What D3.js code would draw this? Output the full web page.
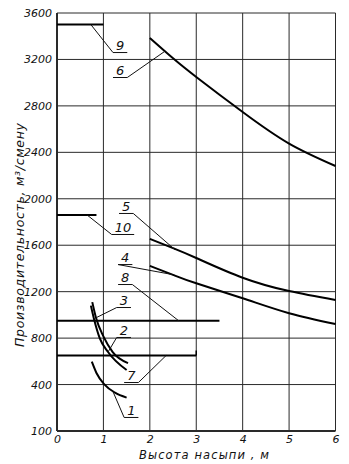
<!DOCTYPE html>
<html>
<head>
<meta charset="utf-8">
<script src="https://cdn.jsdelivr.net/npm/d3@7"></script>
<style>
  html, body { margin: 0; padding: 0; background: #fff; }
  svg { display: block; }
  text { font-family: "DejaVu Sans", "Liberation Sans", sans-serif; font-style: italic; fill: #111; }
</style>
</head>
<body>
<svg id="chart" width="349" height="464"></svg>
<script>
// Embankment height, m (x) versus output, m³ per shift (y)
const xTickValues = [0, 1, 2, 3, 4, 5, 6];
const xTickLabels = ["0", "1", "2", "3", "4", "5", "6"];
const yTickValues = [0, 400, 800, 1200, 1600, 2000, 2400, 2800, 3200, 3600];
const yTickLabels = ["100", "400", "800", "1200", "1600", "2000", "2400", "2800", "3200", "3600"];

// Each series: [height, output] pairs
const curve1 = [[0.75, 597], [0.85, 500], [1.02, 402], [1.25, 330], [1.5, 287]];
const curve2 = [[0.73, 1080], [0.8, 960], [0.92, 800], [1.1, 680], [1.5, 525]];
const curve3 = [[0.76, 1110], [0.84, 975], [1.0, 815], [1.2, 680], [1.53, 585]];
const curve4 = [[2, 1422], [2.5, 1345], [3, 1272], [4, 1143], [5, 1014], [6, 921]];
const curve5 = [[2, 1655], [2.5, 1575], [3, 1490], [4, 1320], [5, 1205], [6, 1128]];
const curve6 = [[2, 3385], [2.5, 3210], [3, 3049], [4, 2747], [5, 2475], [6, 2282]];
const line7 = [[0, 650], [3, 650]];
const line8 = [[0, 950], [3.5, 950]];
const line9 = [[0, 3500], [1, 3500]];
const line10 = [[0, 1860], [0.85, 1860]];

// Curve numbers: text position, which end of the underline the leader leaves from, leader target
const callouts = [
  { text: "9",  at: [1.36, 3281], from: "left",  to: [0.73, 3500] },
  { text: "6",  at: [1.36, 3066], from: "right", to: [2.33, 3272] },
  { text: "5",  at: [1.49, 1895], from: "right", to: [2.54, 1562] },
  { text: "10", at: [1.42, 1714], from: "left",  to: [0.65, 1860] },
  { text: "4",  at: [1.47, 1455], from: "left",  to: [2.48, 1348] },
  { text: "8",  at: [1.47, 1283], from: "right", to: [2.62, 950] },
  { text: "3",  at: [1.44, 1085], from: "left",  to: [0.84, 975] },
  { text: "2",  at: [1.44, 827],  from: "left",  to: [1.1, 680] },
  { text: "7",  at: [1.6, 439],   from: "right", to: [2.35, 650] },
  { text: "1",  at: [1.6, 138],   from: "left",  to: [1.2, 345] }
];

const xTitle = "Высота насыпи , м";
const yTitle = "Производительность, м³/смену";

const svg = d3.select("#chart");
const x = d3.scaleLinear().domain([0, 6]).range([57, 335.5]);
const y = d3.scaleLinear().domain([0, 3600]).range([431, 13]);

// grid
const grid = svg.append("g").attr("stroke", "#2a2a2a").attr("stroke-width", 1).attr("fill", "none");
xTickValues.forEach(v => {
  grid.append("line")
    .attr("x1", x(v)).attr("x2", x(v))
    .attr("y1", y(0)).attr("y2", y(3600))
    .attr("stroke-width", v === 0 ? 2 : 1);
});
yTickValues.forEach(v => {
  grid.append("line")
    .attr("x1", x(0)).attr("x2", x(6))
    .attr("y1", y(v)).attr("y2", y(v))
    .attr("stroke-width", v === 0 ? 2 : 1);
});

// axes (labels only; the frame is drawn by the grid)
const yAxis = d3.axisLeft(y)
  .tickValues(yTickValues)
  .tickFormat((d, i) => yTickLabels[i])
  .tickSize(0).tickPadding(5);
const gy = svg.append("g").attr("transform", `translate(${x(0)},0)`).call(yAxis);
gy.select(".domain").remove();
gy.selectAll("text").style("font-size", "11px").style("font-family", "DejaVu Sans, sans-serif").style("font-style", "italic");

const xAxis = d3.axisBottom(x)
  .tickValues(xTickValues)
  .tickFormat((d, i) => xTickLabels[i])
  .tickSize(0).tickPadding(4);
const gx = svg.append("g").attr("transform", `translate(0,${y(0)})`).call(xAxis);
gx.select(".domain").remove();
gx.selectAll("text").style("font-size", "11px").style("font-family", "DejaVu Sans, sans-serif").style("font-style", "italic");

// series
const smoothShort = d3.line().x(d => x(d[0])).y(d => y(d[1])).curve(d3.curveMonotoneX);
const smoothLong = d3.line().x(d => x(d[0])).y(d => y(d[1])).curve(d3.curveNatural);
const straight = d3.line().x(d => x(d[0])).y(d => y(d[1]));
const marks = svg.append("g").attr("fill", "none").attr("stroke", "#000").attr("stroke-width", 2);
[curve1, curve2, curve3].forEach(c => marks.append("path").attr("d", smoothShort(c)));
[curve4, curve5, curve6].forEach(c => marks.append("path").attr("d", smoothLong(c)));
[line7, line8, line9, line10].forEach(c => marks.append("path").attr("d", straight(c)));
// short end stop on line 7
marks.append("line")
  .attr("x1", x(line7[1][0])).attr("x2", x(line7[1][0]))
  .attr("y1", y(line7[1][1])).attr("y2", y(line7[1][1]) - 5)
  .attr("stroke-width", 1.5);

// callouts
const cg = svg.append("g");
callouts.forEach(c => {
  const cx = x(c.at[0]), by = y(c.at[1]);
  const t = cg.append("text")
    .attr("x", cx).attr("y", by)
    .attr("text-anchor", "middle")
    .style("font-size", "13px")
    .text(c.text);
  const w = t.node().getComputedTextLength();
  const x0 = cx - w / 2 - 3, x1 = cx + w / 2 + 3, uy = by + 2.5;
  cg.append("line").attr("x1", x0).attr("x2", x1).attr("y1", uy).attr("y2", uy)
    .attr("stroke", "#111").attr("stroke-width", 1);
  const sx = c.from === "left" ? x0 : x1;
  cg.append("line").attr("x1", sx).attr("y1", uy)
    .attr("x2", x(c.to[0])).attr("y2", y(c.to[1]))
    .attr("stroke", "#111").attr("stroke-width", 1);
});

// titles
svg.append("text")
  .attr("x", 204).attr("y", 459)
  .attr("text-anchor", "middle")
  .attr("textLength", 130).attr("lengthAdjust", "spacing")
  .style("font-size", "11.5px")
  .text(xTitle);

svg.append("text")
  .attr("transform", "translate(24,347) rotate(-90)")
  .attr("x", 0).attr("y", 0)
  .attr("textLength", 224).attr("lengthAdjust", "spacing")
  .style("font-size", "12.5px")
  .text(yTitle);
</script>
</body>
</html>
